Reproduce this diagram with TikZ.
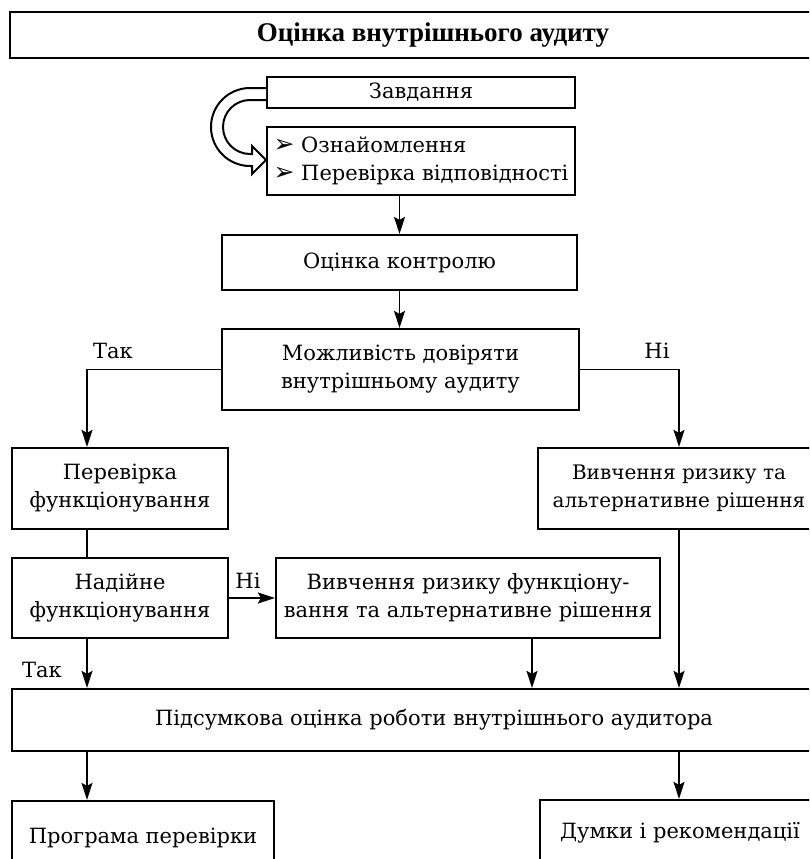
\documentclass[tikz,border=0pt]{standalone}
\usepackage{fontspec}
\setmainfont{DejaVu Serif}
\newfontfamily\headfont{Liberation Serif}
\newfontfamily\bulletfont{DejaVu Sans}
\usetikzlibrary{arrows.meta}
\begin{document}
\begin{tikzpicture}[x=1pt,y=-1pt,
  box/.style={draw,line width=2.2pt,inner sep=0pt,align=center,font=\fontsize{21}{28}\selectfont},
  lbl/.style={inner sep=0pt,font=\fontsize{21}{24}\selectfont},
  link/.style={line width=1.9pt,-{Stealth[length=17pt,width=11pt,inset=3pt]}}]
\useasboundingbox (0,0) rectangle (809,859);
\clip (0,0) rectangle (809,859);
\node[box,line width=2.8pt,minimum width=846,minimum height=46,font=\headfont\bfseries\fontsize{27}{30}\selectfont] (head) at (433,35) {Оцінка внутрішнього аудиту};
\node[box,minimum width=308,minimum height=31] (task) at (421,92.5) {Завдання};
\node[box,minimum width=308,minimum height=68,align=left] (steps) at (421,161) {{\bulletfont\fontsize{25}{28}\selectfont ➢} Ознайомлення\\{\bulletfont\fontsize{25}{28}\selectfont ➢} Перевірка відповідності};
\node[box,minimum width=355,minimum height=55] (ctrl) at (399.5,262.5) {Оцінка контролю};
\node[box,minimum width=357,minimum height=81] (trust) at (400.5,369.5) {Можливість довіряти\\внутрішньому аудиту};
\node[box,minimum width=216,minimum height=81] (check) at (120,488.5) {Перевірка\\функціонування};
\node[box,minimum width=282,minimum height=81,font=\fontsize{20}{28}\selectfont] (risk) at (679,488.5) {Вивчення ризику та\\альтернативне рішення};
\node[box,minimum width=216,minimum height=80] (reliable) at (120,598) {Надійне\\функціонування};
\node[box,minimum width=384,minimum height=80] (riskf) at (468,598) {Вивчення ризику функціону-\\вання та альтернативне рішення};
\node[box,minimum width=844,minimum height=62] (final) at (434,720) {Підсумкова оцінка роботи внутрішнього аудитора};
\node[box,minimum width=262,minimum height=74] (prog) at (143,838) {Програма перевірки};
\node[box,minimum width=280,minimum height=66] (opin) at (680,833) {Думки і рекомендації};
\draw[line width=2pt,fill=white] (266,88) -- (250,88) arc[start angle=270,end angle=90,radius=39] -- (252,166) -- (252,174) -- (266,160) -- (252,146) -- (252,154) -- (250,154) arc[start angle=90,end angle=270,radius=27] -- (266,100);
\coordinate (lcol) at (87,0);
\coordinate (mcol) at (532,0);
\draw[link] (ctrl.north |- steps.south) -- (ctrl.north);
\draw[link] (ctrl.south) -- (ctrl.south |- trust.north);
\draw[link] (trust.west) -| (lcol |- check.north);
\draw[link] (trust.east) -| (risk.north);
\draw[line width=1.9pt] (lcol |- check.south) -- (lcol |- reliable.north);
\draw[link] (reliable.east) -- (riskf.west);
\draw[link] (lcol |- reliable.south) -- (lcol |- final.north);
\draw[link] (mcol |- riskf.south) -- (mcol |- final.north);
\draw[link] (risk.south) -- (risk.south |- final.north);
\draw[link] (lcol |- final.south) -- (lcol |- prog.north);
\draw[link] (risk.south |- final.south) -- (risk.south |- opin.north);
\node[lbl] (yes1) at (113,351) {Так};
\node[lbl] (no1) at (657,351) {Ні};
\node[lbl] (no2) at (248,581) {Ні};
\node[lbl] (yes2) at (42,670) {Так};
\end{tikzpicture}
\end{document}
